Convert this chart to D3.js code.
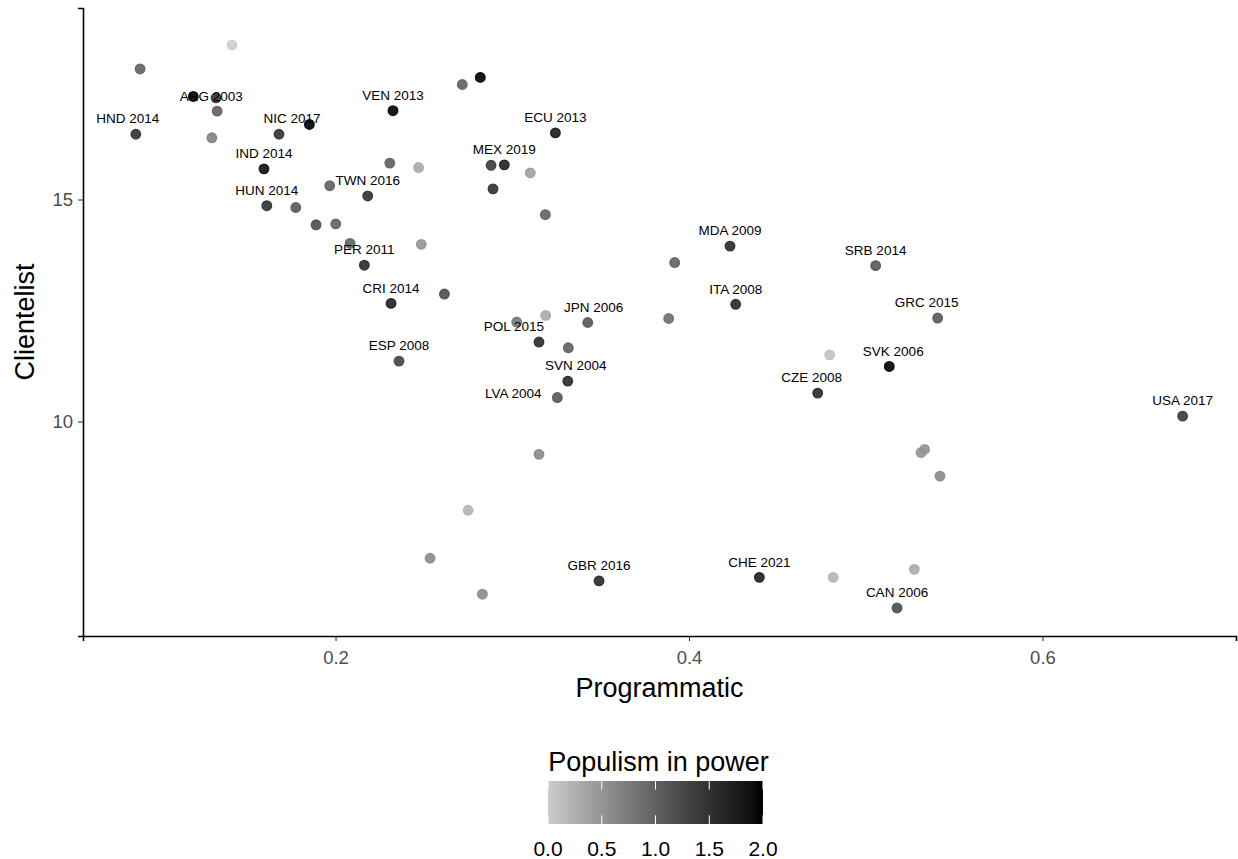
<!DOCTYPE html>
<html>
<head>
<meta charset="utf-8">
<script src="https://cdn.jsdelivr.net/npm/d3@7"></script>
<style>
  html, body { margin: 0; padding: 0; background: #ffffff; }
  svg { display: block; font-family: "Liberation Sans", Arial, Helvetica, sans-serif; }
</style>
</head>
<body>
<svg id="chart" width="1238" height="859"></svg>
<script>
// Party-system linkage: programmatic vs clientelist scores, shaded by populism in power
const programmatic = [
  0.1414, 0.0894, 0.1195, 0.1324, 0.1330, 0.0870, 0.1300, 0.1680, 0.1852, 0.1595,
  0.1611, 0.1775, 0.1967, 0.2182, 0.1890, 0.2001, 0.2082, 0.2163, 0.2314, 0.2359,
  0.2325, 0.2307, 0.2470, 0.2717, 0.2819, 0.2880, 0.2955, 0.2891, 0.3102, 0.3187,
  0.3244, 0.2485, 0.2616, 0.3025, 0.3189, 0.3151, 0.3317, 0.3427, 0.3314, 0.3255,
  0.3885, 0.3919, 0.4232, 0.4264, 0.5056, 0.5407, 0.4796, 0.5133, 0.4728, 0.6793,
  0.5313, 0.5333, 0.5420, 0.3151, 0.2750, 0.2535, 0.2831, 0.3491, 0.4398, 0.4816,
  0.5275, 0.5177
];
const clientelist = [
  18.48, 17.94, 17.32, 17.29, 16.99, 16.47, 16.39, 16.47, 16.69, 15.69,
  14.86, 14.82, 15.31, 15.08, 14.43, 14.45, 14.01, 13.52, 12.66, 11.36,
  17.00, 15.82, 15.72, 17.59, 17.75, 15.77, 15.78, 15.24, 15.60, 14.66,
  16.50, 13.99, 12.87, 12.24, 12.39, 11.79, 11.66, 12.23, 10.91, 10.54,
  12.32, 13.58, 13.95, 12.64, 13.51, 12.33, 11.50, 11.24, 10.64, 10.12,
  9.30, 9.37, 8.77, 9.26, 8.00, 6.92, 6.11, 6.41, 6.49, 6.49,
  6.67, 5.80
];
const populism = [
  0.0, 1.0, 2.0, 1.5, 1.0, 1.5, 0.7, 1.5, 2.0, 1.9,
  1.5, 1.1, 1.0, 1.5, 1.2, 1.0, 1.0, 1.6, 1.7, 1.3,
  2.0, 1.0, 0.3, 1.0, 2.0, 1.4, 1.7, 1.5, 0.4, 1.0,
  1.8, 0.5, 1.2, 0.8, 0.3, 1.6, 1.0, 1.1, 1.6, 1.1,
  0.9, 1.0, 1.6, 1.6, 1.1, 1.1, 0.1, 2.0, 1.6, 1.4,
  0.5, 0.5, 0.6, 0.6, 0.2, 0.6, 0.6, 1.6, 1.7, 0.2,
  0.3, 1.2
];
const caseLabel = [
  "", "", "ARG 2003", "", "", "HND 2014", "", "NIC 2017", "", "IND 2014",
  "HUN 2014", "", "", "TWN 2016", "", "", "", "PER 2011", "CRI 2014", "ESP 2008",
  "VEN 2013", "", "", "", "", "", "MEX 2019", "", "", "",
  "ECU 2013", "", "", "", "", "POL 2015", "", "JPN 2006", "SVN 2004", "LVA 2004",
  "", "", "MDA 2009", "ITA 2008", "SRB 2014", "GRC 2015", "", "SVK 2006", "CZE 2008", "USA 2017",
  "", "", "", "", "", "", "", "GBR 2016", "CHE 2021", "",
  "", "CAN 2006"
];

const xTicks = [0.2, 0.4, 0.6];
const yTicks = [10, 15];
const legendTicks = [0.0, 0.5, 1.0, 1.5, 2.0];

// Label placement offsets (px) where a label is pushed away from the default spot above its point
const labelShift = {
  "ARG 2003": [18, 15.5],
  "HND 2014": [-8, 0],
  "NIC 2017": [13, 0],
  "POL 2015": [-25, 0],
  "JPN 2006": [6, 0],
  "SVN 2004": [8, 0],
  "LVA 2004": [-44, 11],
  "GRC 2015": [-11, 0],
  "SVK 2006": [4, 0],
  "CZE 2008": [-6, 0]
};

const W = 1238, H = 859;
const margin = { left: 83, top: 8, right: 2, bottom: 223 };
const plotW = W - margin.left - margin.right;
const plotH = H - margin.top - margin.bottom;

const svg = d3.select("#chart");
const g = svg.append("g").attr("transform", `translate(${margin.left},${margin.top})`);

const x = d3.scaleLinear().domain([0.0571, 0.7095]).range([0, plotW]);
const y = d3.scaleLinear().domain([5.169, 19.313]).range([plotH, 0]);
const colour = d3.scaleLinear().domain([0, 2]).range(["#cccccc", "#000000"]).interpolate(d3.interpolateLab);

const rows = programmatic.map((p, i) => ({
  p, c: clientelist[i], pop: populism[i], label: caseLabel[i]
}));

// points
g.append("g").selectAll("circle")
  .data(rows)
  .join("circle")
  .attr("cx", d => x(d.p))
  .attr("cy", d => y(d.c))
  .attr("r", 4.8)
  .attr("fill", d => colour(d.pop))
  .attr("fill-opacity", 0.9)
  .attr("stroke", d => colour(d.pop))
  .attr("stroke-opacity", 0.9)
  .attr("stroke-width", 1.3);

// case labels
g.append("g").selectAll("text")
  .data(rows.filter(d => d.label))
  .join("text")
  .attr("x", d => x(d.p) + (labelShift[d.label] ? labelShift[d.label][0] : 0))
  .attr("y", d => y(d.c) - 15.5 + (labelShift[d.label] ? labelShift[d.label][1] : 0))
  .attr("dy", "0.35em")
  .attr("text-anchor", "middle")
  .attr("font-size", 13.5)
  .attr("fill", "#000")
  .text(d => d.label);

// axes
const xAxis = g.append("g").attr("transform", `translate(0,${plotH})`)
  .call(d3.axisBottom(x).tickValues(xTicks).tickFormat(d3.format(".1f")).tickSize(5).tickPadding(10));
const yAxis = g.append("g")
  .call(d3.axisLeft(y).tickValues(yTicks).tickFormat(d3.format("d")).tickSize(5).tickPadding(5));
[xAxis, yAxis].forEach(a => {
  a.select(".domain").attr("stroke", "#000").attr("stroke-width", 1.6);
  a.selectAll(".tick line").attr("stroke", "#333").attr("stroke-width", 1.1);
  a.selectAll(".tick text").attr("fill", "#4d4d4d").attr("font-size", 18.5)
    .attr("font-family", "Liberation Sans, Arial, sans-serif");
});

// axis titles
svg.append("text")
  .attr("x", margin.left + plotW / 2).attr("y", 697)
  .attr("text-anchor", "middle").attr("font-size", 27).attr("fill", "#000")
  .text("Programmatic");
svg.append("text")
  .attr("transform", `translate(34,${margin.top + plotH / 2}) rotate(-90)`)
  .attr("text-anchor", "middle").attr("font-size", 27).attr("fill", "#000")
  .text("Clientelist");

// colour bar legend
const lgX = 548, lgW = 215, lgY = 781, lgH = 43;
const defs = svg.append("defs");
const grad = defs.append("linearGradient").attr("id", "popGrad")
  .attr("x1", "0%").attr("x2", "100%").attr("y1", "0%").attr("y2", "0%");
d3.range(0, 1.0001, 0.05).forEach(t => {
  grad.append("stop").attr("offset", `${t * 100}%`).attr("stop-color", colour(t * 2));
});
svg.append("rect").attr("x", lgX).attr("y", lgY).attr("width", lgW).attr("height", lgH)
  .attr("fill", "url(#popGrad)");
const lx = d3.scaleLinear().domain([0, 2]).range([lgX, lgX + lgW]);
const lg = svg.append("g");
legendTicks.forEach(t => {
  lg.append("line").attr("x1", lx(t)).attr("x2", lx(t)).attr("y1", lgY).attr("y2", lgY + lgH / 5)
    .attr("stroke", "#fff").attr("stroke-width", 1);
  lg.append("line").attr("x1", lx(t)).attr("x2", lx(t)).attr("y1", lgY + lgH - lgH / 5).attr("y2", lgY + lgH)
    .attr("stroke", "#fff").attr("stroke-width", 1);
  lg.append("text").attr("x", lx(t)).attr("y", 856)
    .attr("text-anchor", "middle").attr("font-size", 21).attr("fill", "#000")
    .text(d3.format(".1f")(t));
});
svg.append("text")
  .attr("x", lgX + lgW / 2 + 3).attr("y", 771)
  .attr("text-anchor", "middle").attr("font-size", 27).attr("fill", "#000")
  .text("Populism in power");
</script>
</body>
</html>
